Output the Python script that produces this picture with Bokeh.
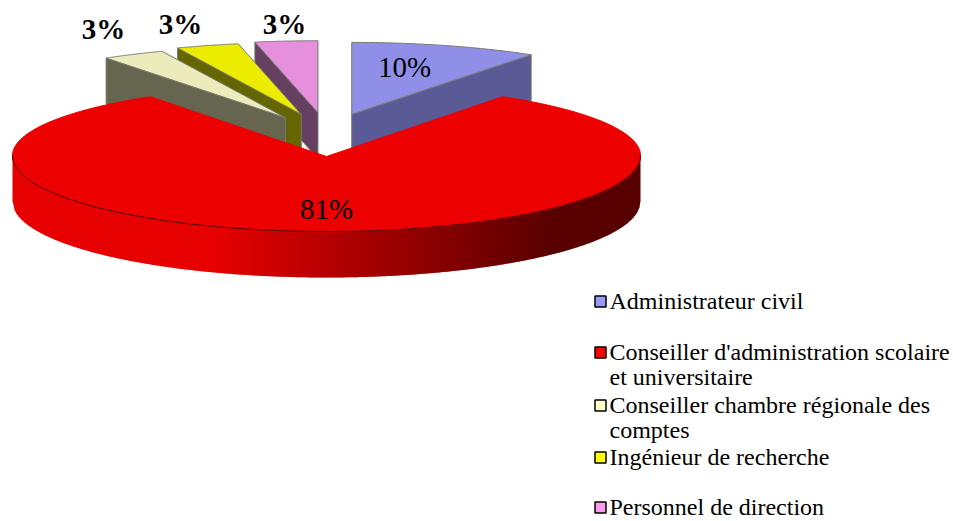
import numpy as np
from bokeh.plotting import figure
from bokeh.models import Range1d
from bokeh.core.properties import value
from bokeh.embed import file_html
from bokeh.resources import INLINE

# ---- data
categories = ["Administrateur civil",
              "Conseiller d'administration scolaire\net universitaire",
              "Conseiller chambre régionale des\ncomptes",
              "Ingénieur de recherche",
              "Personnel de direction"]
counts = [9, 77, 3, 3, 3]
pct_labels = ["10%", "81%", "3%", "3%", "3%"]
top_colors = ["#8f8fe8", "#ec0000", "#ebebbb", "#ecec00", "#e68fdc"]
side_colors = ["#5a5a96", "#e60000", "#666650", "#666600", "#664060"]
legend_colors = ["#9999ff", "#ff0000", "#ffffcc", "#ffff00", "#ff99ee"]

# ---- layout (page pixels)
CX, CY = 326, 155          # pie centre
A, B_BACK, B_FRONT = 314, 71, 76
DEPTH = 46
EXPLODE, EXPLODE_K = 86, 0.5
A_S, B_S = 320, 72         # exploded slice radii
label_pos = [(404, 66), (326, 208), (103, 28), (180, 23), (284, 23)]
legend_y = [301, 352, 405, 457, 507]

p = figure(width=953, height=521, output_backend="svg", toolbar_location=None,
           x_range=Range1d(0, 953), y_range=Range1d(521, 0),
           min_border=0, outline_line_color=None, background_fill_color="white")
p.axis.visible = False
p.grid.visible = False

share = np.array(counts, float) / sum(counts) * 360.0
ends = np.cumsum(share)
starts = ends - share


def arc(cx, cy, a, bb, bf, t0, t1, n=80):
    t = np.radians(np.linspace(t0, t1, n))
    c = np.cos(t)
    return cx + a * np.sin(t), cy - np.where(c > 0, bb, bf) * c


# exploded slices; each later one overlaps the wall of the one before
for i in [4, 3, 2, 0]:
    t0, t1 = starts[i], ends[i]
    mid = np.radians((t0 + t1) / 2)
    ax = CX + EXPLODE * np.sin(mid)
    ay = CY - EXPLODE * EXPLODE_K * np.cos(mid)
    # end of the slice that faces the viewer
    edge = t1 if i == 0 else t0
    ex, ey = arc(ax, ay, A_S, B_S, B_S, edge, edge, 1)
    p.patch([ax, ex[0], ex[0], ax], [ay, ey[0], ey[0] + DEPTH, ay + DEPTH],
            fill_color=side_colors[i], line_color="#77776f", line_width=1)
    x, y = arc(ax, ay, A_S, B_S, B_S, t0, t1)
    p.patch([ax, *x], [ay, *y], fill_color=top_colors[i],
            line_color="#77776f", line_width=1)

# big red slice: side wall as overlapping pixel-aligned strips, shaded left to right
xs_edge = np.arange(CX - A, CX + A, 2)
LIGHT, DARK = np.array([230, 0, 0]), np.array([88, 0, 0])
sx, sy, sc = [], [], []
for x0 in xs_edge:
    x1 = min(x0 + 3, CX + A)
    u0, u1 = (x0 - CX) / A, (x1 - CX) / A
    y0 = CY + B_FRONT * np.sqrt(max(0, 1 - u0 * u0))
    y1 = CY + B_FRONT * np.sqrt(max(0, 1 - u1 * u1))
    sx.append([x0, x1, x1, x0])
    sy.append([y0, y1, y1 + DEPTH, y0 + DEPTH])
    f = np.clip(((x0 - xs_edge[0]) / (2 * A) - 0.32) / 0.54, 0, 1)
    r, g, b = (LIGHT + (DARK - LIGHT) * f).astype(int)
    sc.append(f"#{r:02x}{g:02x}{b:02x}")
p.patches(sx, sy, fill_color=sc, line_color=None)

x, y = arc(CX, CY, A, B_BACK, B_FRONT, starts[1], ends[1], 240)
p.patch([CX, *x], [CY + 1, *y], fill_color=top_colors[1],
        line_color=top_colors[1], line_width=1)
fx, fy = arc(CX, CY, A, B_BACK, B_FRONT, 90, 270, 160)
p.line(fx, fy, line_color="#500000", line_width=1)

# percentage labels
p.text([q[0] for q in label_pos[:2]], [q[1] for q in label_pos[:2]], text=pct_labels[:2],
       text_font=value("Liberation Serif"), text_font_size="29px",
       text_color="#000000", text_align="center", text_baseline="middle")
p.text([q[0] for q in label_pos[2:]], [q[1] for q in label_pos[2:]], text=pct_labels[2:],
       text_font=value("Liberation Serif"), text_font_size="29px", text_font_style="bold",
       text_color="#000000", text_align="center", text_baseline="middle")

# legend
p.scatter([600] * 5, legend_y, marker="square", size=11, fill_color=legend_colors,
          line_color="#000000", line_width=1.5)
p.text([609] * 5, [v - 14 for v in legend_y], text=categories,
       text_font=value("Liberation Serif"), text_font_size="24px", text_color="#000000",
       text_align="left", text_baseline="top", text_line_height=0.98)

open("out.html", "w").write(file_html(p, INLINE))
